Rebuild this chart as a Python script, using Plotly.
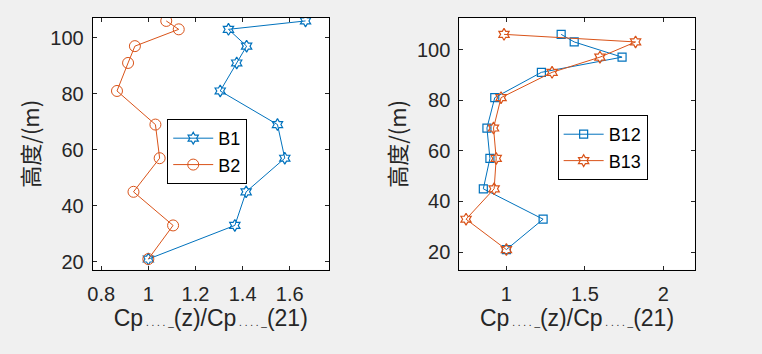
import plotly.graph_objects as go

heights = [21, 33, 45, 57, 69, 81, 91, 97, 103, 106]
B1 = [1.0, 1.367, 1.415, 1.579, 1.548, 1.305, 1.375, 1.417, 1.340, 1.667]
B2 = [1.0, 1.105, 0.937, 1.048, 1.030, 0.867, 0.914, 0.943, 1.129, 1.076]
B12 = [1.0, 1.234, 0.853, 0.895, 0.876, 0.926, 1.223, 1.737, 1.432, 1.349]
B13 = [1.0, 0.743, 0.922, 0.935, 0.918, 0.966, 1.291, 1.596, 1.823, 0.985]
left_xticks = [0.8, 1, 1.2, 1.4, 1.6]
right_xticks = [1, 1.5, 2]
yticks = [20, 40, 60, 80, 100]

BLUE = "#0072BD"
ORANGE = "#D95319"
TXT = "#262626"
FONT = "Liberation Sans, Arial, sans-serif"

fig = go.Figure()
fig.add_trace(go.Scatter(x=B1, y=heights, name="B1", mode="lines+markers",
                         line=dict(color=BLUE, width=1),
                         marker=dict(symbol="hexagram-open", size=9, color=BLUE, line=dict(width=1.2)),
                         xaxis="x", yaxis="y", legend="legend"))
fig.add_trace(go.Scatter(x=B2, y=heights, name="B2", mode="lines+markers",
                         line=dict(color=ORANGE, width=1),
                         marker=dict(symbol="circle-open", size=11, color=ORANGE, line=dict(width=1)),
                         xaxis="x", yaxis="y", legend="legend"))
fig.add_trace(go.Scatter(x=B12, y=heights, name="B12", mode="lines+markers",
                         line=dict(color=BLUE, width=1),
                         marker=dict(symbol="square-open", size=8, color=BLUE, line=dict(width=1.2)),
                         xaxis="x2", yaxis="y2", legend="legend2"))
fig.add_trace(go.Scatter(x=B13, y=heights, name="B13", mode="lines+markers",
                         line=dict(color=ORANGE, width=1),
                         marker=dict(symbol="hexagram-open", size=9, color=ORANGE, line=dict(width=1.2)),
                         xaxis="x2", yaxis="y2", legend="legend2"))

W, H = 762, 354
def px(x):
    return x / W
def py(y):
    return 1 - y / H

axis_common = dict(showgrid=False, zeroline=False, showline=True, linecolor="black", linewidth=1,
                   mirror="ticks", ticks="inside", ticklen=4, tickcolor="#262626",
                   tickfont=dict(family=FONT, size=20, color=TXT))

sub = "<span style='font-size:10px'> . . . . _</span>"
xlabel = "Cp" + sub + "(z)/Cp" + sub + "(21)"
CJK = "Noto Sans CJK SC, Liberation Sans"

fig.update_layout(
    width=W, height=H, margin=dict(l=0, r=0, t=0, b=0),
    paper_bgcolor="#f0f0f0", plot_bgcolor="white",
    font=dict(family=FONT, color=TXT),
    xaxis=dict(domain=[px(88.3), px(326)], range=[0.764, 1.766], tickvals=left_xticks,
               ticktext=[str(v) for v in left_xticks], anchor="y", ticklabelstandoff=6,
               title=dict(text=xlabel, font=dict(size=23, color=TXT), standoff=6), **axis_common),
    yaxis=dict(domain=[py(272), py(18)], range=[17.2, 107.1], tickvals=yticks, anchor="x",
               ticklabelstandoff=4,
               title=dict(text="高度/(m)", font=dict(size=22, color=TXT, family=CJK), standoff=4),
               **axis_common),
    xaxis2=dict(domain=[px(457.3), px(694.3)], range=[0.7, 2.2], tickvals=right_xticks,
                ticktext=[str(v) for v in right_xticks], anchor="y2", ticklabelstandoff=6,
                title=dict(text=xlabel, font=dict(size=23, color=TXT), standoff=6), **axis_common),
    yaxis2=dict(domain=[py(272), py(18.3)], range=[13.06, 112.4], tickvals=yticks, anchor="x2",
                ticklabelstandoff=4,
                title=dict(text="高度/(m)", font=dict(size=22, color=TXT, family=CJK), standoff=4),
                **axis_common),
    legend=dict(x=px(163.3), y=py(120), xanchor="left", yanchor="top", bgcolor="white",
                bordercolor="black", borderwidth=1, font=dict(size=18, color="black", family=FONT),
                tracegroupgap=0, itemwidth=40),
    legend2=dict(x=px(556.3), y=py(116), xanchor="left", yanchor="top", bgcolor="white",
                 bordercolor="black", borderwidth=1, font=dict(size=18, color="black", family=FONT),
                 tracegroupgap=0, itemwidth=40),
    showlegend=True,
)

fig.write_html("out.html")
